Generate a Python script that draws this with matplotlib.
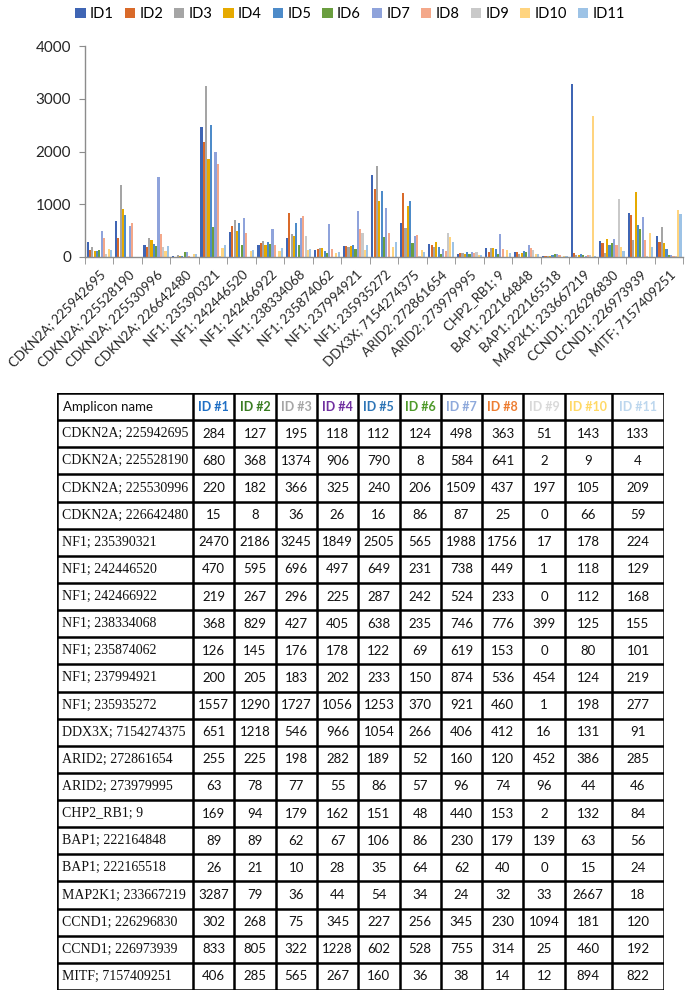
import numpy as np
import matplotlib.pyplot as plt
from matplotlib.patches import Patch

amplicons = ['CDKN2A; 225942695', 'CDKN2A; 225528190', 'CDKN2A; 225530996', 'CDKN2A; 226642480',
             'NF1; 235390321', 'NF1; 242446520', 'NF1; 242466922', 'NF1; 238334068',
             'NF1; 235874062', 'NF1; 237994921', 'NF1; 235935272', 'DDX3X; 7154274375',
             'ARID2; 272861654', 'ARID2; 273979995', 'CHP2_RB1; 9', 'BAP1; 222164848',
             'BAP1; 222165518', 'MAP2K1; 233667219', 'CCND1; 226296830', 'CCND1; 226973939',
             'MITF; 7157409251']

series_names = ['ID1', 'ID2', 'ID3', 'ID4', 'ID5', 'ID6', 'ID7', 'ID8', 'ID9', 'ID10', 'ID11']
table_headers = ['ID #1', 'ID #2', 'ID #3', 'ID #4', 'ID #5', 'ID #6', 'ID #7', 'ID #8', 'ID #9', 'ID #10', 'ID #11']

id1 = [284, 680, 220, 15, 2470, 470, 219, 368, 126, 200, 1557, 651, 255, 63, 169, 89, 26, 3287, 302, 833, 406]
id2 = [127, 368, 182, 8, 2186, 595, 267, 829, 145, 205, 1290, 1218, 225, 78, 94, 89, 21, 79, 268, 805, 285]
id3 = [195, 1374, 366, 36, 3245, 696, 296, 427, 176, 183, 1727, 546, 198, 77, 179, 62, 10, 36, 75, 322, 565]
id4 = [118, 906, 325, 26, 1849, 497, 225, 405, 178, 202, 1056, 966, 282, 55, 162, 67, 28, 44, 345, 1228, 267]
id5 = [112, 790, 240, 16, 2505, 649, 287, 638, 122, 233, 1253, 1054, 189, 86, 151, 106, 35, 54, 227, 602, 160]
id6 = [124, 8, 206, 86, 565, 231, 242, 235, 69, 150, 370, 266, 52, 57, 48, 86, 64, 34, 256, 528, 36]
id7 = [498, 584, 1509, 87, 1988, 738, 524, 746, 619, 874, 921, 406, 160, 96, 440, 230, 62, 24, 345, 755, 38]
id8 = [363, 641, 437, 25, 1756, 449, 233, 776, 153, 536, 460, 412, 120, 74, 153, 179, 40, 32, 230, 314, 14]
id9 = [51, 2, 197, 0, 17, 1, 0, 399, 0, 454, 1, 16, 452, 96, 2, 139, 0, 33, 1094, 25, 12]
id10 = [143, 9, 105, 66, 178, 118, 112, 125, 80, 124, 198, 131, 386, 44, 132, 63, 15, 2667, 181, 460, 894]
id11 = [133, 4, 209, 59, 224, 129, 168, 155, 101, 219, 277, 91, 285, 46, 84, 56, 24, 18, 120, 192, 822]

values = [id1, id2, id3, id4, id5, id6, id7, id8, id9, id10, id11]

bar_colors = ['#3F65B4', '#D96A2A', '#A5A5A5', '#E6AA00', '#4D8BC9', '#6A9E3F',
              '#8FA3DB', '#F4A88A', '#C9C9C9', '#FFD47F', '#9DC3E6']
header_colors = ['#1F6FC5', '#3A7D22', '#A6A6A6', '#7030A0', '#2E75B6', '#4E9A2A',
                 '#8EA9DB', '#ED7D31', '#D9D9D9', '#FFD966', '#BDD7EE']

W, H = 685, 992
fig = plt.figure(figsize=(W / 100, H / 100), dpi=100)

# --- bar chart ---
ax = fig.add_axes([85 / W, 1 - 257 / H, 598 / W, 211 / H])
n_groups = len(amplicons)
n_series = len(values)
x = np.arange(n_groups)
bw = 0.082
for i, (vals, col) in enumerate(zip(values, bar_colors)):
    ax.bar(x - 0.45 + bw * (i + 0.5), vals, width=bw * 0.92, color=col, label=series_names[i])

ax.set_xlim(-0.5, n_groups - 0.5)
ax.set_ylim(0, 4000)
ax.set_yticks([0, 1000, 2000, 3000, 4000])
for side in ['top', 'right']:
    ax.spines[side].set_visible(False)
for side in ['left', 'bottom']:
    ax.spines[side].set_color('#8C8C8C')
    ax.spines[side].set_linewidth(1.0)
ax.tick_params(axis='y', length=4, color='#8C8C8C', labelsize=11, pad=6)
ax.set_xticks(x)
ax.set_xticklabels(amplicons, rotation=45, ha='right', va='top', rotation_mode='anchor',
                   fontsize=9.5)
ax.tick_params(axis='x', which='major', length=0, pad=8)
ax.set_xticks(np.arange(-0.5, n_groups, 1.0), minor=True)
ax.tick_params(axis='x', which='minor', length=5, color='#8C8C8C')
for lab in ax.get_xticklabels() + ax.get_yticklabels():
    lab.set_family('Lato')
    lab.set_color('#262626')

handles = [Patch(facecolor=c, label=n) for c, n in zip(bar_colors, series_names)]
fig.legend(handles=handles, loc='center', bbox_to_anchor=(350 / W, 1 - 14 / H), ncol=11,
           frameon=False, handlelength=0.7, handleheight=0.7, handletextpad=0.3,
           columnspacing=0.75, prop={'family': 'Lato', 'size': 10.5})

# --- table ---
tx0, ty0, ty1 = 57, 393, 990
name_w = 136
col_ws = [41.3] * 9 + [47, 52.5]
tx1 = tx0 + name_w + sum(col_ws)
tax = fig.add_axes([tx0 / W, 1 - ty1 / H, (tx1 - tx0) / W, (ty1 - ty0) / H])
tax.set_xlim(tx0, tx1)
tax.set_ylim(ty1, ty0)
tax.axis('off')

n_rows = n_groups + 1
row_h = (ty1 - ty0) / n_rows
col_edges = [tx0, tx0 + name_w] + list(tx0 + name_w + np.cumsum(col_ws))
col_mid = [(a + b) / 2 for a, b in zip(col_edges[1:-1], col_edges[2:])]
row_edges = [ty0 + row_h * r for r in range(n_rows + 1)]

for xe in col_edges:
    tax.plot([xe, xe], [ty0, ty1], color='black', lw=1.8, solid_capstyle='projecting')
for ye in row_edges:
    tax.plot([tx0, tx1], [ye, ye], color='black', lw=1.8, solid_capstyle='projecting')

tax.text(tx0 + 6, ty0 + row_h / 2, 'Amplicon name', ha='left', va='center',
         fontsize=9.5, family='Lato', color='#111111')
for cx, hdr, hc in zip(col_mid, table_headers, header_colors):
    tax.text(cx, ty0 + row_h / 2, hdr, ha='center', va='center', fontsize=9,
             family='Lato', weight='bold', color=hc)

for r, name in enumerate(amplicons):
    cy = ty0 + row_h * (r + 1.5)
    tax.text(tx0 + 5, cy, name, ha='left', va='center', fontsize=10,
             family='Liberation Serif', color='#111111')
    for k, cx in enumerate(col_mid):
        tax.text(cx, cy, str(values[k][r]), ha='center', va='center', fontsize=9.5,
                 family='Lato', color='#111111')

fig.savefig('out.png', dpi=100)
